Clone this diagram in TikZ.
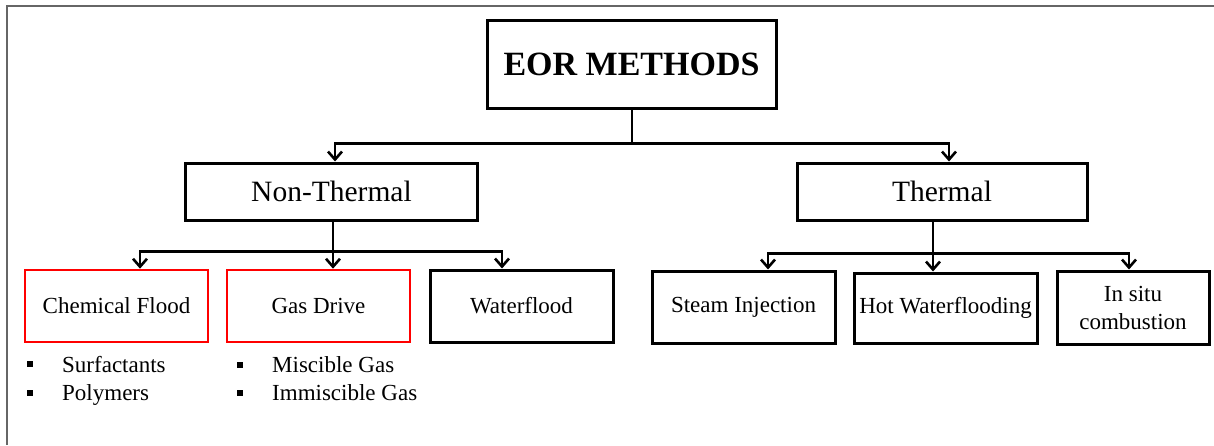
\documentclass[tikz,border=0pt]{standalone}
\usepackage{fontspec}
\setmainfont{Liberation Serif}
\usetikzlibrary{calc,arrows.meta}

\newcommand{\sqb}{\rule[5pt]{6pt}{6pt}\hspace{29pt}}

\begin{document}
\begin{tikzpicture}[x=1pt,y=-1pt,
  box/.style={draw, line width=3pt, inner sep=0pt, align=center,
    minimum width=183pt, minimum height=72pt, font=\fontsize{23}{28}\selectfont},
  redbox/.style={box, draw=red, line width=2.6pt},
  head/.style={box, minimum width=292pt, minimum height=57pt, font=\fontsize{29.5}{34}\selectfont},
  arr/.style={line width=2.6pt, -{Straight Barb[length=8pt,width=14pt,line width=2.6pt]}},
  item/.style={anchor=base west, inner sep=0pt, font=\fontsize{23}{28}\selectfont}]
  \useasboundingbox (0,0) rectangle (1214,445);
  \draw[gray!80!black, line width=1.4pt] (7,445) -- (7,6) -- (1214,6);

  \node[box, minimum width=289pt, minimum height=88pt,
    font=\fontsize{34}{40}\selectfont\bfseries] (eor) at (631.5,64) {EOR METHODS};

  \node[head] (nonth) at (331.5,191.5) {Non-Thermal};
  \node[head, minimum width=290pt] (therm) at (942,191.5) {Thermal};

  \node[redbox] (chem) at (116.5,306) {Chemical Flood};
  \node[redbox] (gas) at (318.5,306) {Gas Drive};
  \node[box] (water) at (521.5,306) {Waterflood};

  \node[box] (steam) at (743.5,307) {Steam Injection};
  \node[box, minimum height=70pt] (hot) at (945.5,308) {Hot Waterflooding};
  \node[box, minimum width=152pt, minimum height=73pt] (insitu) at (1133,307.5) {In situ\\combustion};

  % bullet lists under the red boxes
  \node[item] (surf) at (27,372) {\sqb Surfactants};
  \node[item] (poly) at (27,400.5) {\sqb Polymers};
  \node[item] (misc) at (237,372.5) {\sqb Miscible Gas};
  \node[item] (immisc) at (237,400.5) {\sqb Immiscible Gas};

  % top level
  \coordinate (eb) at ($(eor.south)+(0,34)$);
  \draw[line width=2pt] (eor.south) -- (eb);
  \draw[arr] (eb) -| ([xshift=3.5pt]nonth.north);
  \draw[arr] (eb) -| ([xshift=7pt]therm.north);

  % non-thermal branch
  \coordinate (nb) at ($(nonth.south)+(1.5,30)$);
  \draw[arr] (nonth.south -| nb) -- (gas.north -| nb);
  \draw[arr] (nb) -| ([xshift=23.5pt]chem.north);
  \draw[arr] (nb) -| ([xshift=-19.5pt]water.north);

  % thermal branch
  \coordinate (tb) at ($(therm.south)+(-9,32)$);
  \draw[arr] (therm.south -| tb) -- (hot.north -| tb);
  \draw[arr] (tb) -| ([xshift=24.5pt]steam.north);
  \draw[arr] (tb) -| ([xshift=-4pt]insitu.north);
\end{tikzpicture}
\end{document}
